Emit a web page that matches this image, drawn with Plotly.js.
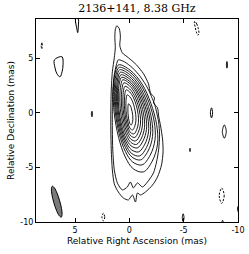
<!DOCTYPE html>
<html>
<head>
<meta charset="utf-8">
<script src="https://cdn.plot.ly/plotly-3.0.1.min.js"></script>
<style>html,body{margin:0;padding:0;background:#fff;}#chart{width:249px;height:254px;}</style>
</head>
<body>
<div id="chart"></div>
<script>
// ---- data (mas) ----
const titleText = "2136+141, 8.38 GHz";
const xTickVals = [5, 0, -5, -10];
const xTickText = ["5", "0", "-5", "-10"];
const yTickVals = [-10, -5, 0, 5];
const yTickText = ["-10", "-5", "0", "5"];

// positive contours of the source, outermost first
const contourX = [
  [1.16,0.93,0.83,0.88,0.65,0.09,-0.65,-1.30,-1.76,-1.94,-2.31,-2.22,-2.59,-2.69,-2.87,-3.06,-3.10,-2.96,-2.59,-2.13,-1.48,-1.02,-0.74,-0.56,-0.28,0.09,0.56,1.02,1.39,1.57,1.67,1.71,1.71,1.67,1.57,1.39,1.30,1.34,1.30,1.16],
  [1.02,0.46,-0.28,-1.02,-1.67,-2.04,-2.31,-2.50,-2.69,-2.78,-2.69,-2.50,-2.22,-1.67,-1.20,-0.74,-0.37,-0.09,0.19,0.65,1.11,1.39,1.53,1.57,1.57,1.53,1.39,1.20,1.02],
  [0.99,-0.07,-1.17,-1.98,-2.51,-2.59,-2.10,-1.29,-0.35,0.38,0.99,1.40,1.48,1.32,0.99],
  [0.94,-0.04,-1.05,-1.80,-2.29,-2.36,-1.91,-1.16,-0.30,0.38,0.94,1.31,1.39,1.24,0.94],
  [0.89,-0.01,-0.93,-1.62,-2.06,-2.13,-1.72,-1.03,-0.25,0.37,0.89,1.23,1.30,1.16,0.89],
  [0.83,0.01,-0.84,-1.47,-1.88,-1.94,-1.57,-0.94,-0.21,0.35,0.83,1.14,1.20,1.08,0.83],
  [0.77,0.02,-0.76,-1.33,-1.70,-1.76,-1.42,-0.84,-0.18,0.34,0.77,1.05,1.11,1.00,0.77],
  [0.71,0.03,-0.67,-1.19,-1.52,-1.57,-1.26,-0.74,-0.15,0.32,0.71,0.97,1.02,0.92,0.71],
  [0.61,0.02,-0.60,-1.05,-1.34,-1.39,-1.12,-0.66,-0.14,0.27,0.61,0.84,0.88,0.79,0.61],
  [0.51,0.00,-0.52,-0.91,-1.17,-1.20,-0.97,-0.58,-0.13,0.22,0.51,0.70,0.74,0.66,0.51],
  [0.41,-0.01,-0.45,-0.78,-0.99,-1.02,-0.82,-0.50,-0.13,0.16,0.41,0.57,0.60,0.54,0.41],
  [0.31,-0.03,-0.38,-0.64,-0.81,-0.83,-0.68,-0.42,-0.12,0.11,0.31,0.44,0.46,0.41,0.31],
  [0.21,-0.03,-0.28,-0.46,-0.58,-0.60,-0.49,-0.31,-0.09,0.07,0.21,0.31,0.32,0.29,0.21],
  [0.08,-0.04,-0.16,-0.25,-0.31,-0.32,-0.27,-0.18,-0.07,0.01,0.08,0.13,0.14,0.12,0.08]
];
const contourY = [
  [7.98,7.71,6.97,6.15,5.50,5.05,4.40,3.58,2.66,1.83,1.38,0.92,0.46,-0.28,-1.19,-2.48,-3.58,-4.77,-5.87,-6.61,-7.25,-7.52,-7.34,-8.17,-7.52,-7.98,-7.80,-7.25,-6.51,-5.23,-3.39,-1.56,0.28,2.11,3.76,5.05,5.96,6.88,7.61,7.98],
  [4.86,4.68,4.13,3.30,2.29,1.47,0.83,0.09,-0.83,-2.02,-3.39,-4.50,-5.50,-6.33,-6.79,-6.42,-6.88,-6.33,-6.79,-7.06,-6.42,-5.23,-3.39,-1.56,0.28,2.11,3.49,4.40,4.86],
  [4.40,3.91,2.64,0.87,-1.09,-2.86,-4.43,-5.41,-5.12,-4.04,-2.27,-0.01,1.95,3.62,4.40],
  [4.17,3.73,2.56,0.95,-0.84,-2.45,-3.88,-4.77,-4.50,-3.52,-1.91,0.15,1.94,3.46,4.17],
  [3.95,3.53,2.46,0.97,-0.68,-2.17,-3.49,-4.31,-4.06,-3.16,-1.67,0.23,1.88,3.28,3.95],
  [3.72,3.33,2.34,0.96,-0.57,-1.95,-3.18,-3.95,-3.72,-2.87,-1.49,0.27,1.80,3.10,3.72],
  [3.49,3.13,2.21,0.94,-0.47,-1.74,-2.87,-3.58,-3.37,-2.59,-1.32,0.31,1.72,2.92,3.49],
  [3.26,2.93,2.09,0.93,-0.37,-1.53,-2.56,-3.21,-3.02,-2.31,-1.14,0.35,1.64,2.74,3.26],
  [3.03,2.73,1.96,0.90,-0.29,-1.35,-2.30,-2.89,-2.71,-2.06,-1.00,0.37,1.55,2.55,3.03],
  [2.75,2.49,1.79,0.84,-0.23,-1.19,-2.04,-2.57,-2.41,-1.82,-0.87,0.36,1.42,2.33,2.75],
  [2.43,2.20,1.59,0.75,-0.19,-1.03,-1.78,-2.25,-2.11,-1.59,-0.75,0.33,1.26,2.06,2.43],
  [2.11,1.91,1.38,0.66,-0.15,-0.88,-1.52,-1.93,-1.81,-1.36,-0.64,0.29,1.10,1.79,2.11],
  [1.65,1.49,1.07,0.50,-0.15,-0.73,-1.24,-1.56,-1.46,-1.11,-0.53,0.21,0.85,1.39,1.65],
  [0.83,0.73,0.48,0.13,-0.25,-0.60,-0.91,-1.10,-1.04,-0.83,-0.48,-0.04,0.34,0.67,0.83]
];

// isolated small positive patches
const blobX = [
  [4.95,4.72,4.70,4.76,4.86,4.95,4.95],
  [6.90,6.20,6.11,6.20,6.39,6.67,6.85,6.90],
  [3.45,3.40,3.45,3.50,3.45],
  [-8.98,-9.03,-8.98,-8.93,-8.98],
  [-7.56,-7.66,-7.56,-7.46,-7.56],
  [-8.74,-8.92,-8.74,-8.56,-8.74],
  [-5.58,-5.62,-5.58,-5.54,-5.58],
  [-10.25,-10.55,-10.25,-9.95,-10.25],
  [-4.95,-5.03,-4.95,-4.87,-4.95],
  [-8.58,-8.63,-8.58,-8.53,-8.58]
];
const blobY = [
  [8.62,8.62,7.95,7.35,7.80,8.30,8.62],
  [4.86,5.14,4.40,3.76,3.30,3.58,4.13,4.86],
  [0.15,-0.10,-0.36,-0.10,0.15],
  [4.71,4.40,4.10,4.40,4.71],
  [0.46,0.00,-0.46,0.00,0.46],
  [-1.10,-1.71,-2.32,-1.71,-1.10],
  [-3.24,-3.40,-3.55,-3.40,-3.24],
  [-8.25,-8.80,-9.35,-8.80,-8.25],
  [-9.25,-9.60,-9.95,-9.60,-9.25],
  [-9.85,-9.95,-10.05,-9.95,-9.85]
];

// negative (dashed) contours
const negX = [
  [-6.02,-6.20,-6.35,-6.40,-6.30,-6.17,-6.05,-5.98,-6.02],
  [8.05,8.12,8.08,8.02,8.05],
  [-8.50,-8.73,-8.50,-8.27,-8.50],
  [2.40,2.27,2.40,2.53,2.40]
];
const negY = [
  [8.40,8.15,7.70,7.25,7.12,7.40,7.90,8.25,8.40],
  [6.45,6.15,5.85,6.15,6.45],
  [-6.89,-7.59,-8.29,-7.59,-6.89],
  [-9.20,-9.55,-9.90,-9.55,-9.20]
];

// restoring beam outline
const beamX = [7.10,7.18,7.13,6.96,6.72,6.47,6.28,6.20,6.25,6.42,6.66,6.91,7.10];
const beamY = [-6.72,-6.95,-7.50,-8.22,-8.92,-9.41,-9.56,-9.33,-8.78,-8.06,-7.36,-6.87,-6.72];

// ---- traces ----
const traces = [];
contourX.forEach((xs, i) => {
  traces.push({x: xs, y: contourY[i], type: 'scatter', mode: 'lines',
    line: {color: '#000', width: 0.9, shape: 'spline', smoothing: i < 2 ? 0.7 : 1.0},
    hoverinfo: 'skip', showlegend: false});
});
blobX.forEach((xs, i) => {
  traces.push({x: xs, y: blobY[i], type: 'scatter', mode: 'lines',
    line: {color: '#000', width: 1, shape: 'spline', smoothing: 1.0},
    hoverinfo: 'skip', showlegend: false});
});
negX.forEach((xs, i) => {
  traces.push({x: xs, y: negY[i], type: 'scatter', mode: 'lines',
    line: {color: '#000', width: 1, dash: '2px,1.5px', shape: 'spline', smoothing: 1.0},
    hoverinfo: 'skip', showlegend: false});
});
traces.push({x: beamX, y: beamY, type: 'scatter', mode: 'lines', fill: 'toself',
  fillcolor: '#7a7a7a', line: {color: '#000', width: 1, shape: 'spline', smoothing: 1.0},
  hoverinfo: 'skip', showlegend: false});

const axisCommon = {
  showline: true, linecolor: '#000', linewidth: 1, mirror: 'ticks',
  ticks: 'inside', ticklen: 4, tickcolor: '#000', tickwidth: 1,
  showgrid: false, zeroline: false,
  tickfont: {family: 'DejaVu Sans', size: 8, color: '#000'},
  tickmode: 'array'
};

const layout = {
  width: 249, height: 254,
  margin: {l: 36, r: 11, t: 19, b: 32, pad: 0},
  paper_bgcolor: '#fff', plot_bgcolor: '#fff',
  title: {text: titleText, font: {family: 'DejaVu Serif', size: 11, color: '#000'},
    x: 0.55, xanchor: 'center', y: 0.985, yanchor: 'top'},
  xaxis: Object.assign({}, axisCommon, {
    range: [8.6, -10], tickvals: xTickVals, ticktext: xTickText,
    title: {text: 'Relative Right Ascension (mas)', standoff: 4,
      font: {family: 'DejaVu Sans', size: 9, color: '#000'}}
  }),
  yaxis: Object.assign({}, axisCommon, {
    range: [-10, 8.6], tickvals: yTickVals, ticktext: yTickText,
    title: {text: 'Relative Declination (mas)', standoff: 4,
      font: {family: 'DejaVu Sans', size: 9, color: '#000'}}
  }),
  showlegend: false
};

Plotly.newPlot('chart', traces, layout, {displayModeBar: false, staticPlot: true});
</script>
</body>
</html>
